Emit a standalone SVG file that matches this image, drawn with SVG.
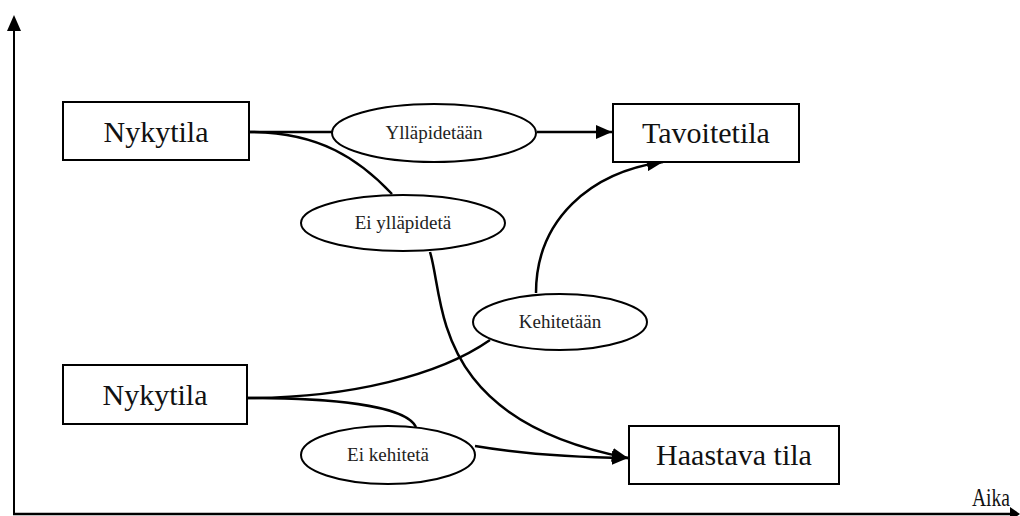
<svg xmlns="http://www.w3.org/2000/svg" width="1020" height="516" viewBox="0 0 1020 516">
<style>
.box{fill:#fff;stroke:#000;stroke-width:2}
.ell{fill:#fff;stroke:#000;stroke-width:2}
.con{fill:none;stroke:#000;stroke-width:2.5}
text{font-family:'Liberation Serif','Times New Roman',serif}
.big{font-size:30px;fill:#111;text-anchor:middle}
.small{font-size:19px;fill:#222;text-anchor:middle}
</style>
<defs>
<marker id="arr" viewBox="0 0 16 14" refX="16" refY="7" markerWidth="16" markerHeight="14" markerUnits="userSpaceOnUse" orient="auto">
<path d="M0,0 L16,7 L0,14 Z" fill="#000"/>
</marker>
</defs>
<g id="axes">
<line x1="14" y1="515" x2="14" y2="30" stroke="#000" stroke-width="2"/>
<path d="M7,31 L14,15 L21,31 Z" fill="#000"/>
<line x1="13" y1="514" x2="1012" y2="514" stroke="#000" stroke-width="2.5"/>
<path d="M1010,507 L1020,514 L1010,521 Z" fill="#000"/>
<text x="972" y="506" font-family="Liberation Serif, serif" font-size="25" fill="#111" textLength="38" lengthAdjust="spacingAndGlyphs">Aika</text>
</g>
<g id="connectors">
<line class="con" x1="249" y1="132" x2="333" y2="132"/>
<line class="con" x1="537" y1="132" x2="612" y2="132" marker-end="url(#arr)"/>
<path class="con" d="M249,132 C320,132 360,160 392,194"/>
<path class="con" d="M430,252 C445,300 430,420 628,458" marker-end="url(#arr)"/>
<path class="con" d="M536,293 C536,220 590,172 663,162" marker-end="url(#arr)"/>
<path class="con" d="M247,398 C350,398 440,375 490,340"/>
<path class="con" d="M247,398 C330,398 405,405 416,427"/>
<path class="con" d="M475,446 Q540,457 628,458" marker-end="url(#arr)"/>
</g>
<g id="n1">
<rect class="box" x="63" y="102" width="186" height="58"/>
<text class="big" x="156" y="142" font-family="Liberation Serif, serif">Nykytila</text>
</g>
<g id="n2">
<rect class="box" x="63" y="365" width="184" height="59"/>
<text class="big" x="155" y="405" font-family="Liberation Serif, serif">Nykytila</text>
</g>
<g id="t1">
<rect class="box" x="613" y="104" width="186" height="58"/>
<text class="big" x="706" y="143" font-family="Liberation Serif, serif">Tavoitetila</text>
</g>
<g id="h1">
<rect class="box" x="629" y="426" width="210" height="58"/>
<text class="big" x="734" y="465" font-family="Liberation Serif, serif">Haastava tila</text>
</g>
<g id="e1">
<ellipse class="ell" cx="434" cy="133" rx="102" ry="29"/>
<text class="small" x="434" y="139" font-family="Liberation Serif, serif">Ylläpidetään</text>
</g>
<g id="e2">
<ellipse class="ell" cx="403" cy="223" rx="102" ry="28"/>
<text class="small" x="403" y="229" font-family="Liberation Serif, serif">Ei ylläpidetä</text>
</g>
<g id="e3">
<ellipse class="ell" cx="560" cy="322" rx="87" ry="28"/>
<text class="small" x="560" y="328" font-family="Liberation Serif, serif">Kehitetään</text>
</g>
<g id="e4">
<ellipse class="ell" cx="388" cy="455" rx="87" ry="29"/>
<text class="small" x="388" y="461" font-family="Liberation Serif, serif">Ei kehitetä</text>
</g>
</svg>
